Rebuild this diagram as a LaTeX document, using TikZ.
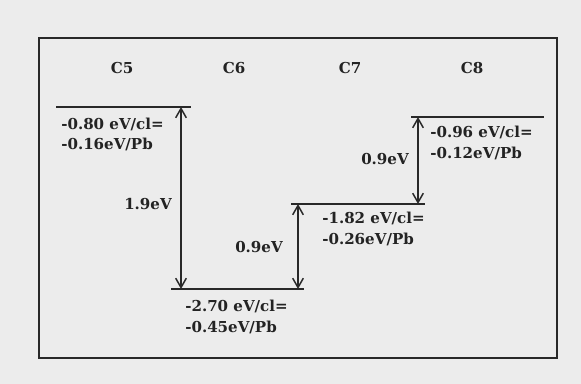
\documentclass[tikz,border=0pt]{standalone}
\usepackage{fontspec}
\setmainfont{DejaVu Serif}
\usetikzlibrary{arrows.meta}

\tikzset{
  lvl/.style={color={rgb, 255:red, 40; green, 40; blue, 40 }, line width=1.1},
  gap/.style={color={rgb, 255:red, 40; green, 40; blue, 40 }, line width=1.1, {Straight Barb[length=7pt,width=8pt]}-{Straight Barb[length=7pt,width=8pt]}},
  lbl/.style={font=\fontsize{11.3}{15.5}\selectfont\bfseries, color={rgb, 255:red, 35; green, 35; blue, 35 }, inner sep=0pt},
  val/.style={lbl, anchor=west, align=left}
}

\begin{document}
\begin{tikzpicture}[x=0.75pt,y=0.75pt,yscale=-1,xscale=1]
%set diagram left start at 0, and has height of 384
\useasboundingbox (0,0) rectangle (581,384);
\fill [color={rgb, 255:red, 236; green, 236; blue, 236 }] (0,0) rectangle (581,384);

%Shape: Rectangle
\draw [color={rgb, 255:red, 40; green, 40; blue, 40 }, line width=1.1] (39,38) rectangle (557,358);

%Levels
\coordinate (c5l) at (56,107);  \coordinate (c5r) at (191,107);
\coordinate (c6l) at (171,289); \coordinate (c6r) at (304,289);
\coordinate (c7l) at (291,204); \coordinate (c7r) at (425,204);
\coordinate (c8l) at (411,117); \coordinate (c8r) at (544,117);
\draw [lvl] (c5l) -- (c5r);
\draw [lvl] (c6l) -- (c6r);
\draw [lvl] (c7l) -- (c7r);
\draw [lvl] (c8l) -- (c8r);

%Gaps
\coordinate (g1t) at (181,107); \coordinate (g1b) at (181,289);
\coordinate (g2t) at (298,204); \coordinate (g2b) at (298,289);
\coordinate (g3t) at (418,117); \coordinate (g3b) at (418,204);
\draw [gap] (g1t) -- (g1b);
\draw [gap] (g2b) -- (g2t);
\draw [gap] (g3t) -- (g3b);

% Text Node
\draw (122,68) node [lbl] (tc5) {C5};
% Text Node
\draw (234,68) node [lbl] (tc6) {C6};
% Text Node
\draw (350,68) node [lbl] (tc7) {C7};
% Text Node
\draw (472,68) node [lbl] (tc8) {C8};
% Text Node
\draw (61,134.5) node [val] (v5) {-0.80 eV/cl=\\-0.16eV/Pb};
% Text Node
\draw (185,317) node [val] (v6) {-2.70 eV/cl=\\-0.45eV/Pb};
% Text Node
\draw (322,229) node [val] (v7) {-1.82 eV/cl=\\-0.26eV/Pb};
% Text Node
\draw (430,143) node [val] (v8) {-0.96 eV/cl=\\-0.12eV/Pb};
% Text Node
\draw (148,204) node [lbl] (e1) {1.9eV};
% Text Node
\draw (259,247) node [lbl] (e2) {0.9eV};
% Text Node
\draw (385,159) node [lbl] (e3) {0.9eV};

\end{tikzpicture}
\end{document}
